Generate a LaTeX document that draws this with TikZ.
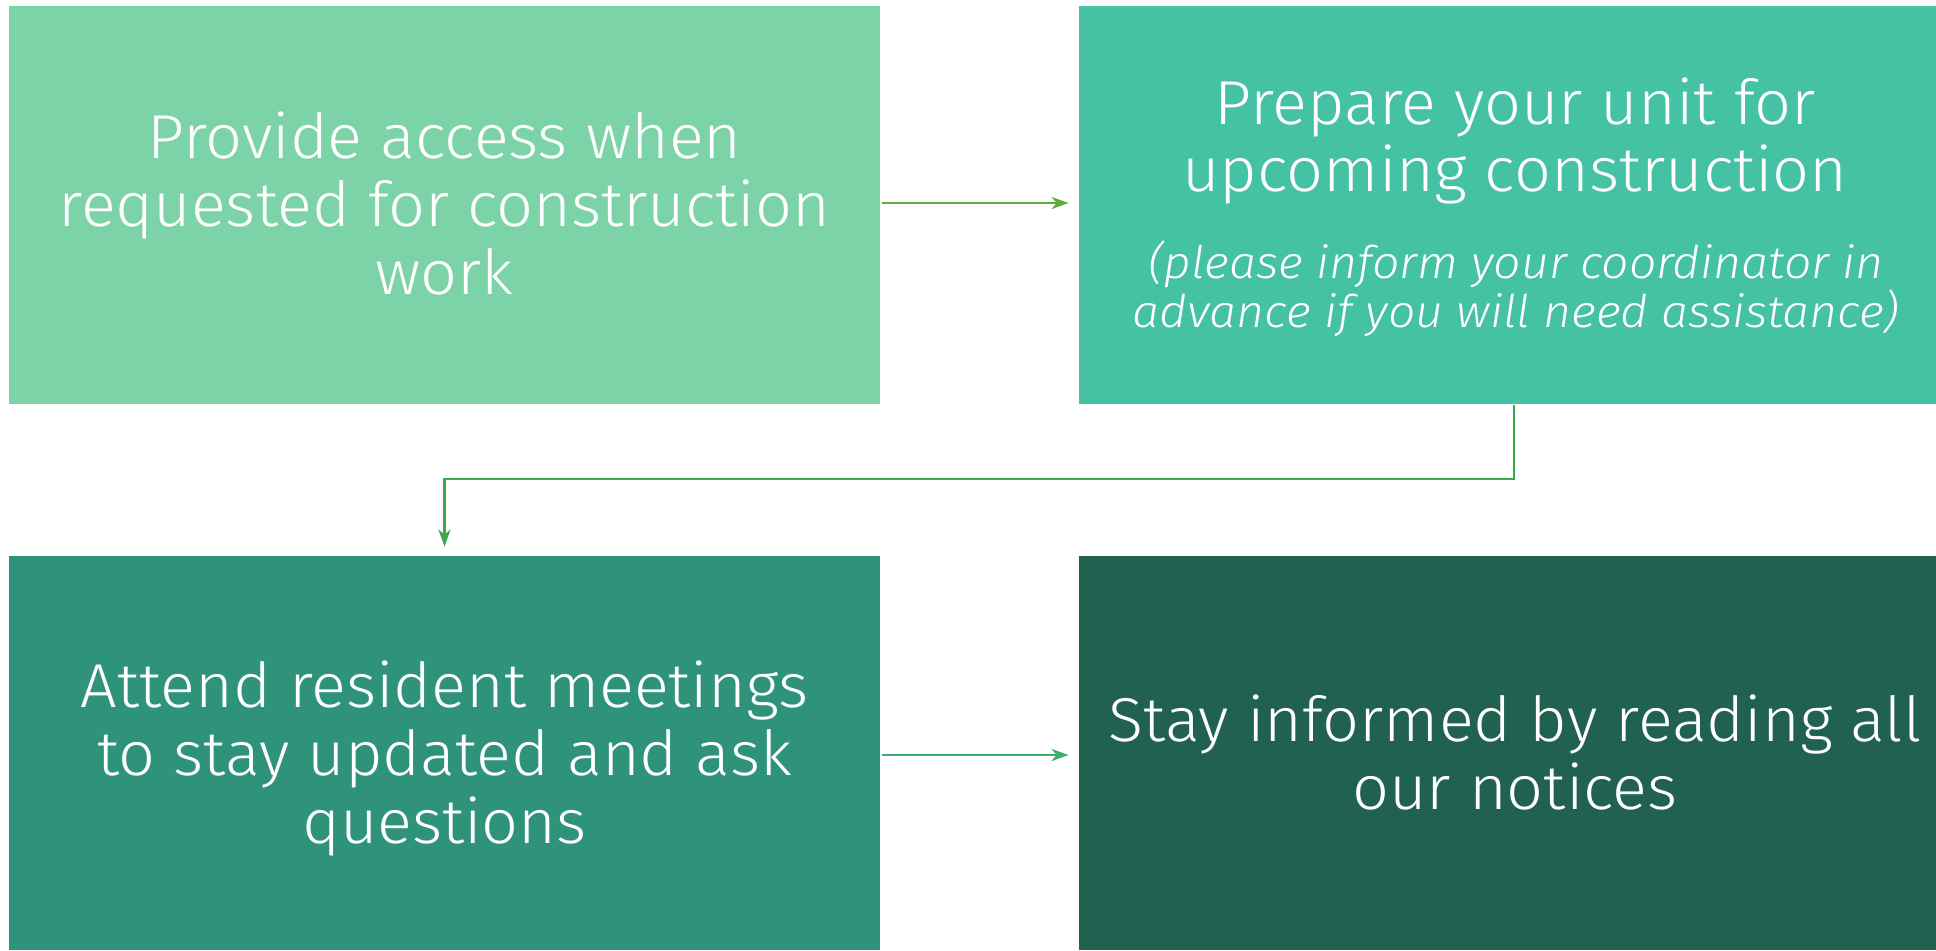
\documentclass[tikz,border=0pt]{standalone}
\usepackage{fontspec}
\setmainfont{Fira Sans}[UprightFont=* Light, ItalicFont=* Light Italic]
\usetikzlibrary{arrows.meta}
\definecolor{cA}{HTML}{7DD3A8}
\definecolor{cB}{HTML}{45C1A3}
\definecolor{cC}{HTML}{2F937B}
\definecolor{cD}{HTML}{216150}
\definecolor{arA}{HTML}{5FAD3F}
\definecolor{arB}{HTML}{3BAA48}
\definecolor{arC}{HTML}{3AAE72}
\tikzset{
  box/.style={draw=none, rectangle, inner sep=0pt, minimum height=#1},
  boxw/.style={minimum width=#1},
  maintxt/.style={anchor=base, inner sep=0pt, text=white, font=\addfontfeatures{FakeStretch=1.045}\fontsize{31}{34}\selectfont},
  notetxt/.style={anchor=base, inner sep=0pt, text=white, font=\addfontfeatures{FakeStretch=1.07}\fontsize{22.5}{24.5}\selectfont\itshape},
  conn/.style={line width=1.35pt, -{Stealth[length=8.5pt, width=6pt, inset=2.5pt]}},
}
\begin{document}
\begin{tikzpicture}[x=0.5pt, y=-0.5pt]
\useasboundingbox (0,0) rectangle (1936,950);
\fill[white] (0,0) rectangle (1936,950);
% boxes
\node[box=199pt, boxw=435.5pt, fill=cA] (b1) at (444.5,205) {};
\node[box=199pt, boxw=428.5pt, fill=cB] (b2) at (1507.5,205) {};
\node[box=197pt, boxw=435.5pt, fill=cC] (b3) at (444.5,753) {};
\node[box=197pt, boxw=428.5pt, fill=cD] (b4) at (1507.5,753) {};
% texts box 1
\node[maintxt] (t1a) at (444.5,158) {Provide access when};
\node[maintxt] (t1b) at (444.5,226) {requested for construction};
\node[maintxt] (t1c) at (444.5,294) {work};
% texts box 2
\node[maintxt] (t2a) at (1515,124) {Prepare your unit for};
\node[maintxt] (t2b) at (1515,191) {upcoming construction};
\node[notetxt] (t2c) at (1516,278) {(please inform your coordinator in};
\node[notetxt] (t2d) at (1516,327) {advance if you will need assistance)};
% texts box 3
\node[maintxt] (t3a) at (444.5,707) {Attend resident meetings};
\node[maintxt] (t3b) at (444.5,775) {to stay updated and ask};
\node[maintxt] (t3c) at (444.5,843) {questions};
% texts box 4
\node[maintxt] (t4a) at (1515,741) {Stay informed by reading all};
\node[maintxt] (t4b) at (1515,809) {our notices};
% connectors
\draw[conn, arA] ([xshift=1pt,yshift=1pt]b1.east) -- ([xshift=-5pt,yshift=1pt]b2.west);
\coordinate (elb) at (1514,479);
\draw[conn, arB] ([xshift=3.25pt,yshift=-0.5pt]b2.south) |- (elb -| b3.north) -- ([yshift=4.5pt]b3.north);
\draw[conn, arC] ([xshift=1pt,yshift=-1pt]b3.east) -- ([xshift=-5pt,yshift=-1pt]b4.west);
\end{tikzpicture}
\end{document}
